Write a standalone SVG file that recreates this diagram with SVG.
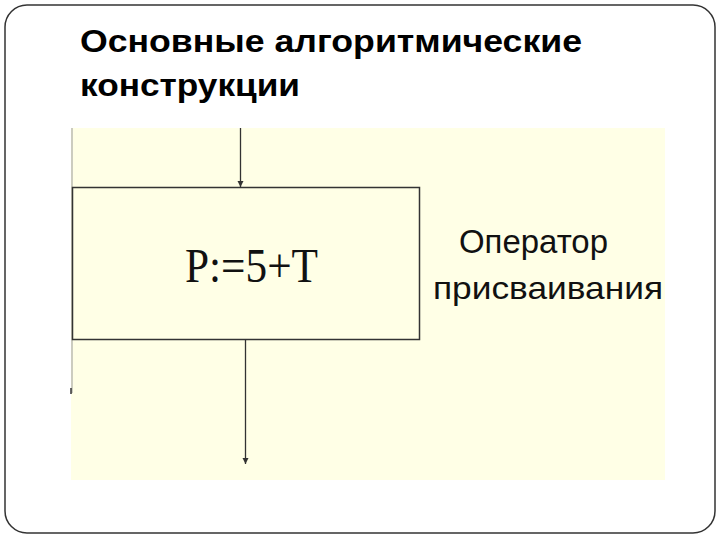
<svg xmlns="http://www.w3.org/2000/svg" width="720" height="540" viewBox="0 0 720 540">
<style>
.title{font-family:"Liberation Sans",Arial,sans-serif;font-weight:bold;font-size:32px;fill:#000}
.lbl{font-family:"Liberation Sans",Arial,sans-serif;fill:#111}
.expr{font-family:"Liberation Serif","Times New Roman",serif;font-size:48px;fill:#111}
.conn{stroke:#333;stroke-width:1.3;fill:none}
</style>
<defs>
<marker id="ah" viewBox="0 0 10 10" refX="10" refY="5" markerWidth="6" markerHeight="8" markerUnits="userSpaceOnUse" orient="auto">
<path d="M0,0 L10,5 L0,10 z" fill="#333"/>
</marker>
</defs>
<rect width="720" height="540" fill="#fff"/>
<rect x="5" y="5" width="710" height="528" rx="22" ry="22" fill="none" stroke="#333" stroke-width="1.5"/>
<text class="title" x="80" y="52" textLength="502" lengthAdjust="spacingAndGlyphs">Основные алгоритмические</text>
<text class="title" x="80" y="96" textLength="220" lengthAdjust="spacingAndGlyphs">конструкции</text>
<rect x="71" y="128" width="594" height="352" fill="#FFFFE6"/>
<line x1="72" y1="128" x2="72" y2="393" stroke="#999" stroke-width="1"/>
<line x1="71" y1="388" x2="71" y2="394" stroke="#333" stroke-width="1.5"/>
<g id="node-assign">
<rect x="72.5" y="187.5" width="347" height="152" fill="#FFFFE6" stroke="#333" stroke-width="1.5"/>
<text class="expr" x="185" y="282" textLength="133" lengthAdjust="spacingAndGlyphs">P:=5+T</text>
</g>
<g id="label">
<text class="lbl" x="459" y="253" font-size="33" textLength="149" lengthAdjust="spacingAndGlyphs">Оператор</text>
<text class="lbl" x="433" y="299" font-size="32" textLength="230" lengthAdjust="spacingAndGlyphs">присваивания</text>
</g>
<g id="connectors">
<line class="conn" x1="240.5" y1="128" x2="240.5" y2="187" marker-end="url(#ah)"/>
<line class="conn" x1="245.5" y1="340" x2="245.5" y2="464" marker-end="url(#ah)"/>
</g>
</svg>
